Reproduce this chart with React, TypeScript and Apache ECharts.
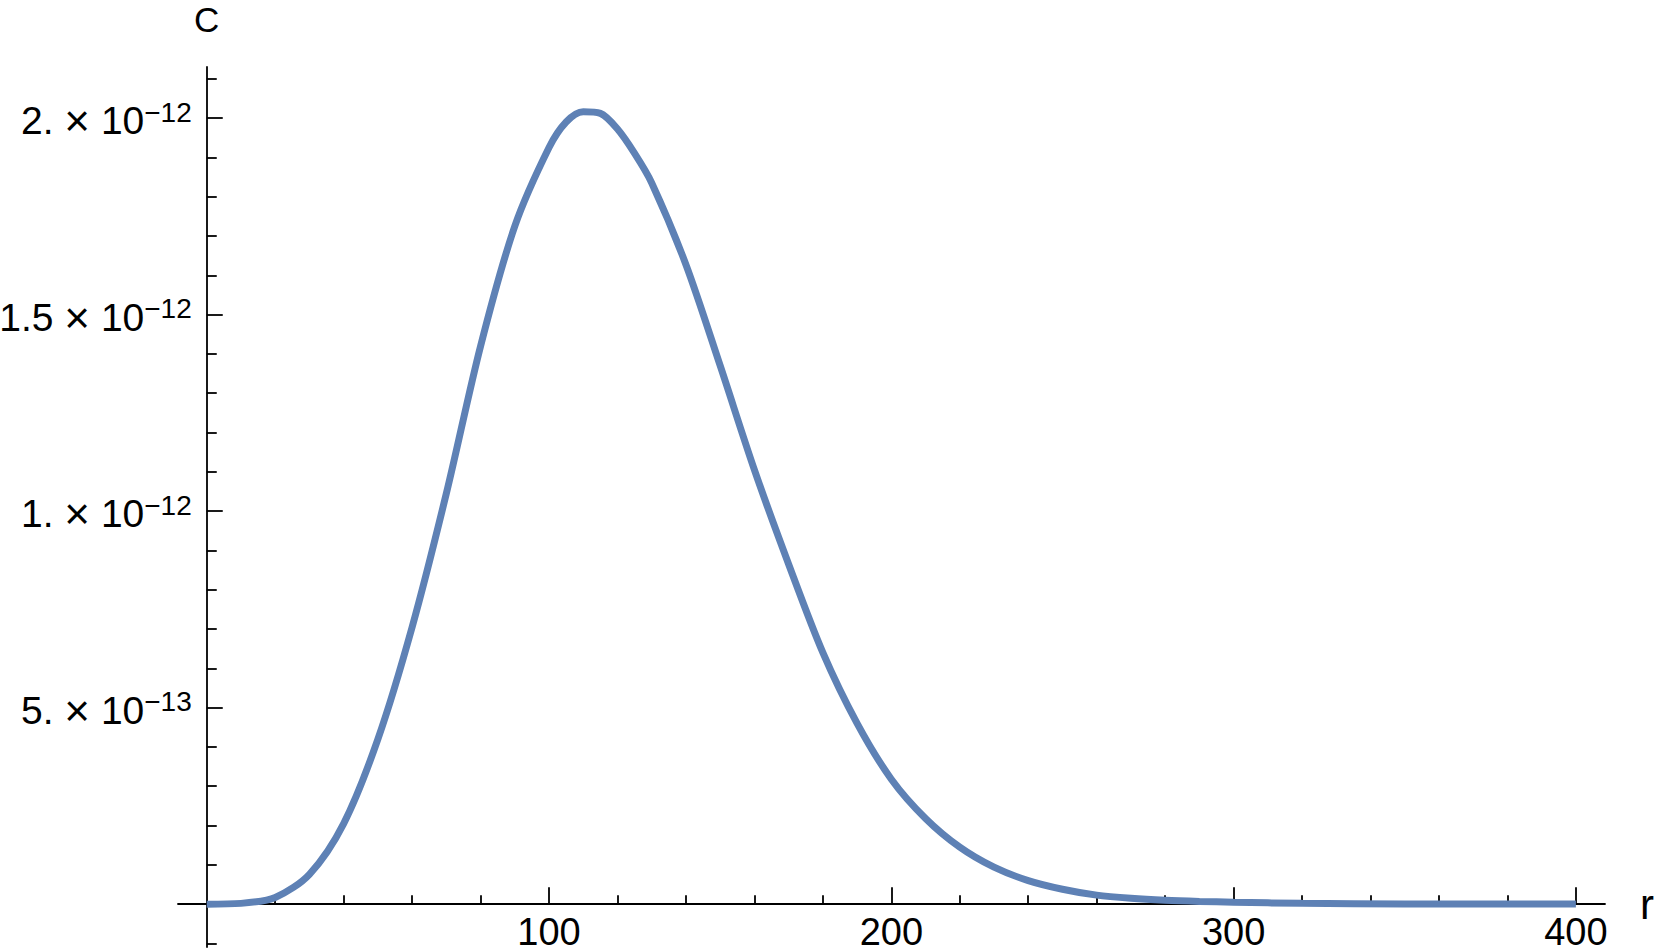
import React, { useEffect, useRef } from "react";
import * as echarts from "echarts";

// r values and C(r)
const rValues = [
  0, 10, 20, 30, 40, 50, 60, 70, 80, 90,
  100, 105, 110, 115, 120, 125, 130, 140, 150, 160,
  170, 180, 190, 200, 210, 220, 230, 240, 250, 260,
  270, 280, 290, 300, 320, 350, 400,
];
const cValues = [
  0, 0.002e-12, 0.017e-12, 0.076e-12, 0.205e-12, 0.42e-12, 0.705e-12, 1.045e-12, 1.42e-12, 1.725e-12,
  1.925e-12, 1.99e-12, 2.016e-12, 2.012e-12, 1.972e-12, 1.91e-12, 1.835e-12, 1.627e-12, 1.37e-12, 1.105e-12,
  0.865e-12, 0.64e-12, 0.46e-12, 0.318e-12, 0.218e-12, 0.145e-12, 0.094e-12, 0.06e-12, 0.038e-12, 0.023e-12,
  0.015e-12, 0.01e-12, 0.007e-12, 0.005e-12, 0.002e-12, 0.0006e-12, 0.0001e-12,
];

// axis ticks
const xMinorTicks = [20, 40, 60, 80, 120, 140, 160, 180, 220, 240, 260, 280, 320, 340, 360, 380];
const xMajorTicks = [100, 200, 300, 400];
const xMajorLabels = ["100", "200", "300", "400"];
const yMinorTicks = [
  -0.1e-12, 0.1e-12, 0.2e-12, 0.3e-12, 0.4e-12, 0.6e-12, 0.7e-12, 0.8e-12, 0.9e-12,
  1.1e-12, 1.2e-12, 1.3e-12, 1.4e-12, 1.6e-12, 1.7e-12, 1.8e-12, 1.9e-12, 2.1e-12,
];
const yMajorTicks = [5e-13, 1e-12, 1.5e-12, 2e-12];
const yMajorMantissa = ["5.", "1.", "1.5", "2."];
const yMajorExponent = ["\u221213", "\u221212", "\u221212", "\u221212"];

const X_MIN = -8.4;
const X_MAX = 408.5;
const Y_MIN = -0.109e-12;
const Y_MAX = 2.13e-12;

const W = 1661;
const H = 952;
const GRID = { left: 178, right: 56, top: 67, bottom: 5 };

const FONT = "'Liberation Sans', Arial, sans-serif";

export default function App() {
  const ref = useRef<HTMLDivElement>(null);

  useEffect(() => {
    if (!ref.current) return;
    const chart = echarts.init(ref.current, undefined, { renderer: "svg" });
    const data = rValues.map((r, i) => [r, cValues[i]]);

    const gridW = W - GRID.left - GRID.right;
    const gridH = H - GRID.top - GRID.bottom;
    // offsets that move the tick-only axes from the grid edge onto the zero lines
    const yAxisOffset = -((0 - X_MIN) / (X_MAX - X_MIN)) * gridW;
    const xAxisOffset = -((0 - Y_MIN) / (Y_MAX - Y_MIN)) * gridH;

    const yLabelFormatter = (v: number) => {
      let best = 0;
      for (let i = 1; i < yMajorTicks.length; i++) {
        if (Math.abs(yMajorTicks[i] - v) < Math.abs(yMajorTicks[best] - v)) best = i;
      }
      return `{m|${yMajorMantissa[best]} }{x|\u00d7}{m| 10}{s|${yMajorExponent[best]}}`;
    };

    const xLabelFormatter = (v: number) => {
      let best = 0;
      for (let i = 1; i < xMajorTicks.length; i++) {
        if (Math.abs(xMajorTicks[i] - v) < Math.abs(xMajorTicks[best] - v)) best = i;
      }
      return xMajorLabels[best];
    };

    const lineStyle = { color: "#000", width: 1.8 };

    chart.setOption({
      animation: false,
      textStyle: { fontFamily: FONT },
      grid: { ...GRID, containLabel: false, outerBoundsMode: "none" },
      xAxis: [
        {
          type: "value",
          min: X_MIN,
          max: X_MAX,
          position: "bottom",
          axisLine: { show: true, onZero: true, lineStyle },
          axisTick: { show: true, inside: true, length: 9, lineStyle, customValues: xMinorTicks },
          axisLabel: { show: false },
          splitLine: { show: false },
          name: "r",
          nameLocation: "end",
          nameGap: 35,
          nameTextStyle: { fontSize: 42, color: "#000", fontFamily: FONT, verticalAlign: "middle" },
        },
        {
          type: "value",
          min: X_MIN,
          max: X_MAX,
          position: "bottom",
          offset: xAxisOffset,
          axisLine: { show: false, onZero: false },
          axisTick: { show: true, inside: true, length: 17, lineStyle, customValues: xMajorTicks },
          axisLabel: {
            show: true,
            customValues: xMajorTicks,
            formatter: xLabelFormatter,
            fontSize: 38,
            lineHeight: 34,
            color: "#000",
            fontFamily: FONT,
            margin: 11,
          },
          splitLine: { show: false },
        },
      ],
      yAxis: [
        {
          type: "value",
          min: Y_MIN,
          max: Y_MAX,
          position: "left",
          axisLine: { show: true, onZero: true, lineStyle },
          axisTick: { show: true, inside: true, length: 10, lineStyle, customValues: yMinorTicks },
          axisLabel: { show: false },
          splitLine: { show: false },
          name: "C",
          nameLocation: "end",
          nameGap: 30,
          nameTextStyle: { fontSize: 35, color: "#000", fontFamily: FONT, align: "center" },
        },
        {
          type: "value",
          min: Y_MIN,
          max: Y_MAX,
          position: "left",
          offset: yAxisOffset,
          axisLine: { show: false, onZero: false },
          axisTick: { show: true, inside: true, length: 16, lineStyle, customValues: yMajorTicks },
          axisLabel: {
            show: true,
            customValues: yMajorTicks,
            formatter: yLabelFormatter,
            margin: 15,
            color: "#000",
            rich: {
              m: { fontSize: 39, lineHeight: 40, padding: [5, 0, 0, 0], color: "#000", fontFamily: FONT },
              x: { fontSize: 44, lineHeight: 40, padding: [5, 0, 0, 0], color: "#000", fontFamily: FONT },
              s: { fontSize: 28, lineHeight: 28, verticalAlign: "top", color: "#000", fontFamily: FONT },
            },
          },
          splitLine: { show: false },
        },
      ],
      series: [
        {
          type: "line",
          xAxisIndex: 0,
          yAxisIndex: 0,
          data,
          showSymbol: false,
          smooth: 0.3,
          lineStyle: { color: "#5E81B5", width: 7 },
          itemStyle: { color: "#5E81B5" },
          z: 5,
        },
      ],
    });

    return () => chart.dispose();
  }, []);

  return (
    <div
      ref={ref}
      style={{ position: "absolute", left: 0, top: 0, width: W, height: H, background: "#fff" }}
    />
  );
}
